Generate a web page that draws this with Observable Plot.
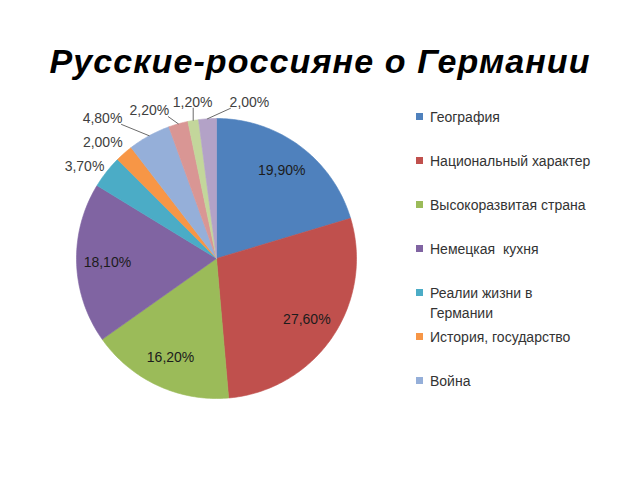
<!DOCTYPE html>
<html><head><meta charset="utf-8">
<script src="https://cdn.jsdelivr.net/npm/d3@7"></script>
<script src="https://cdn.jsdelivr.net/npm/@observablehq/plot@0.6"></script>
<style>
body{margin:0;background:#fff;}
#wrap{position:relative;width:640px;height:480px;overflow:hidden;background:#fff;}
#chart{position:absolute;left:0;top:0;}
#title{position:absolute;left:0;top:41px;width:640px;text-align:center;font:italic bold 34px "Liberation Sans",Arial,sans-serif;letter-spacing:1.1px;line-height:40px;color:#000;white-space:nowrap;}
#legend{position:absolute;left:416px;top:106.7px;font:14px "Liberation Sans",Arial,sans-serif;color:#333;}
.item{height:44px;position:relative;}
.sw{position:absolute;left:0;top:6.5px;width:7px;height:7px;}
.lt{position:absolute;left:14px;top:0;line-height:20px;white-space:pre;}
</style>
</head><body>
<div id="wrap">
  <div id="chart"></div>
  <div id="title">Русские-россияне о Германии</div>
  <div id="legend"></div>
</div>
<script>
// ---- data ----
const legendNames = ["География", "Национальный характер", "Высокоразвитая страна", "Немецкая  кухня", "Реалии жизни в\nГермании", "История, государство", "Война"];
const values = [19.9, 27.6, 16.2, 18.1, 3.7, 2.0, 4.8, 2.2, 1.2, 2.0];
const valueLabels = ["19,90%", "27,60%", "16,20%", "18,10%", "3,70%", "2,00%", "4,80%", "2,20%", "1,20%", "2,00%"];

// ---- styles / layout ----
const colors = ["#4F81BD", "#C0504D", "#9BBB59", "#8064A2", "#4BACC6", "#F79646", "#95AFD9", "#D99694", "#C3D69B", "#B3A2C7"];
const W = 640, H = 480, CX = 216, CY = 258, R = 140;
// outside-label layout: angular shift (deg) and radial factor, for small slices
const outShiftDeg = {4: -3.3, 5: -3.2, 6: -10.4, 7: -8.6, 8: 0.9, 9: 15.6};
const outRadius = {4: 1.15, 5: 1.16, 6: 1.29, 7: 1.16, 8: 1.13, 9: 1.14};

const total = d3.sum(values);
let acc = 0;
const slices = values.map((v, i) => {
  const a0 = acc / total * 2 * Math.PI;
  acc += v;
  const a1 = acc / total * 2 * Math.PI;
  return {i, v, a0, a1, mid: (a0 + a1) / 2};
});

// polygon points for each slice (unit radius, angle clockwise from 12 o'clock)
const pts = [];
for (const s of slices) {
  pts.push({slice: s.i, x: 0, y: 0});
  const n = Math.max(2, Math.ceil((s.a1 - s.a0) / (Math.PI / 180)));
  for (let k = 0; k <= n; k++) {
    const a = s.a0 + (s.a1 - s.a0) * k / n;
    pts.push({slice: s.i, x: Math.sin(a), y: Math.cos(a)});
  }
  pts.push({slice: s.i, x: 0, y: 0});
}

// labels
const labels = slices.map(s => {
  const inside = s.v >= 10;
  const a = inside ? s.mid : s.mid + (outShiftDeg[s.i] || 0) * Math.PI / 180;
  const r = inside ? 0.78 : (outRadius[s.i] || 1.15);
  return {i: s.i, text: valueLabels[s.i], inside, x: r * Math.sin(a), y: r * Math.cos(a)};
});

// leader lines: from slice edge at mid angle to nearest point of label box
const hw = 19 / R, hh = 6 / R;
const leaders = [];
for (const L of labels) {
  if (L.inside) continue;
  const s = slices[L.i];
  const ex = Math.sin(s.mid), ey = Math.cos(s.mid);
  const px = Math.max(L.x - hw, Math.min(L.x + hw, ex));
  const py = Math.max(L.y - hh, Math.min(L.y + hh, ey));
  if (Math.hypot(px - ex, py - ey) * R > 8) {
    leaders.push({id: L.i, x: ex, y: ey});
    leaders.push({id: L.i, x: px, y: py});
  }
}

const plot = Plot.plot({
  width: W, height: H,
  margin: 0,
  x: {domain: [-CX / R, (W - CX) / R], range: [0, W], axis: null},
  y: {domain: [-(H - CY) / R, CY / R], range: [H, 0], axis: null},
  color: {type: "ordinal", domain: d3.range(values.length), range: colors},
  style: {background: "transparent"},
  marks: [
    Plot.line(pts, {x: "x", y: "y", z: "slice", fill: "slice", stroke: "slice", strokeWidth: 0.6, curve: "linear"}),
    Plot.line(leaders, {x: "x", y: "y", z: "id", stroke: "#6b6b6b", strokeWidth: 1}),
    Plot.text(labels.filter(d => d.inside), {x: "x", y: "y", text: "text", fill: "#1c1c1c", fontSize: 14, fontFamily: "Liberation Sans, Arial, sans-serif"}),
    Plot.text(labels.filter(d => !d.inside), {x: "x", y: "y", text: "text", fill: "#404040", fontSize: 14, fontFamily: "Liberation Sans, Arial, sans-serif"})
  ]
});
document.getElementById("chart").appendChild(plot);

const lg = document.getElementById("legend");
legendNames.forEach((name, i) => {
  const it = document.createElement("div");
  it.className = "item";
  const sw = document.createElement("div");
  sw.className = "sw";
  sw.style.background = colors[i];
  const t = document.createElement("div");
  t.className = "lt";
  t.textContent = name;
  it.appendChild(sw);
  it.appendChild(t);
  lg.appendChild(it);
});
</script>
</body></html>
